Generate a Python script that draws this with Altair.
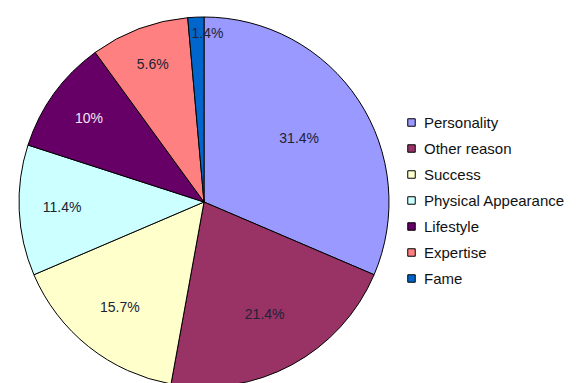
import altair as alt
import pandas as pd

categories = ["Personality", "Other reason", "Success", "Physical Appearance",
              "Lifestyle", "Expertise", "Fame"]
values = [31.4, 21.4, 15.7, 11.4, 10.0, 8.6, 1.4]
labels = ["31.4%", "21.4%", "15.7%", "11.4%", "10%", "5.6%", "1.4%"]
colors = ["#9999FF", "#993366", "#FFFFCC", "#CCFFFF", "#660066", "#FF8080", "#0066CC"]

df = pd.DataFrame({
    "cat": categories,
    "value": values,
    "label": labels,
    "idx": list(range(len(categories))),
})

FONT = "Arial, Liberation Sans, sans-serif"

pie = alt.Chart(df).mark_arc(outerRadius=185, stroke="#000000", strokeWidth=1).encode(
    theta=alt.Theta("value:Q", stack=True),
    order=alt.Order("idx:Q"),
    x=alt.value(204),
    y=alt.value(202),
    color=alt.Color(
        "cat:N",
        scale=alt.Scale(domain=categories, range=colors),
        sort=categories,
        legend=alt.Legend(
            title=None,
            orient="none",
            legendX=404,
            legendY=115,
            symbolType="square",
            symbolSize=56,
            symbolStrokeColor="#000000",
            symbolStrokeWidth=1,
            labelFont=FONT,
            labelFontSize=15,
            labelColor="#111111",
            rowPadding=10,
            labelOffset=5,
            labelLimit=300,
        ),
    ),
)

text = alt.Chart(df).transform_window(
    cum="sum(value)", sort=[alt.SortField("idx")], frame=[None, 0]
).transform_joinaggregate(
    total="sum(value)"
).transform_calculate(
    mid="2 * PI * (datum.cum - datum.value / 2) / datum.total + (datum.cat == 'Fame' ? 0.065 : 0)",
    lr="datum.cat == 'Personality' ? 114 : (datum.cat == 'Fame' ? 168 : (datum.cat == 'Other reason' ? 128 : (datum.cat == 'Success' ? 135 : (datum.cat == 'Expertise' ? 146 : 142))))",
).mark_text(font=FONT, fontSize=14, align="center", baseline="middle").encode(
    theta=alt.Theta("mid:Q", scale=None),
    radius=alt.Radius("lr:Q", scale=None),
    x=alt.value(204),
    y=alt.value(202),
    text="label:N",
    color=alt.condition(alt.datum.cat == "Lifestyle", alt.value("#F0E6F5"), alt.value("#222233")),
)

chart = (pie + text).properties(
    width=576, height=383, autosize=alt.AutoSizeParams(type="none"), padding=0,
    background="white",
).configure_view(stroke=None)

chart.save("out.html", embed_options={"renderer": "svg", "actions": False})
